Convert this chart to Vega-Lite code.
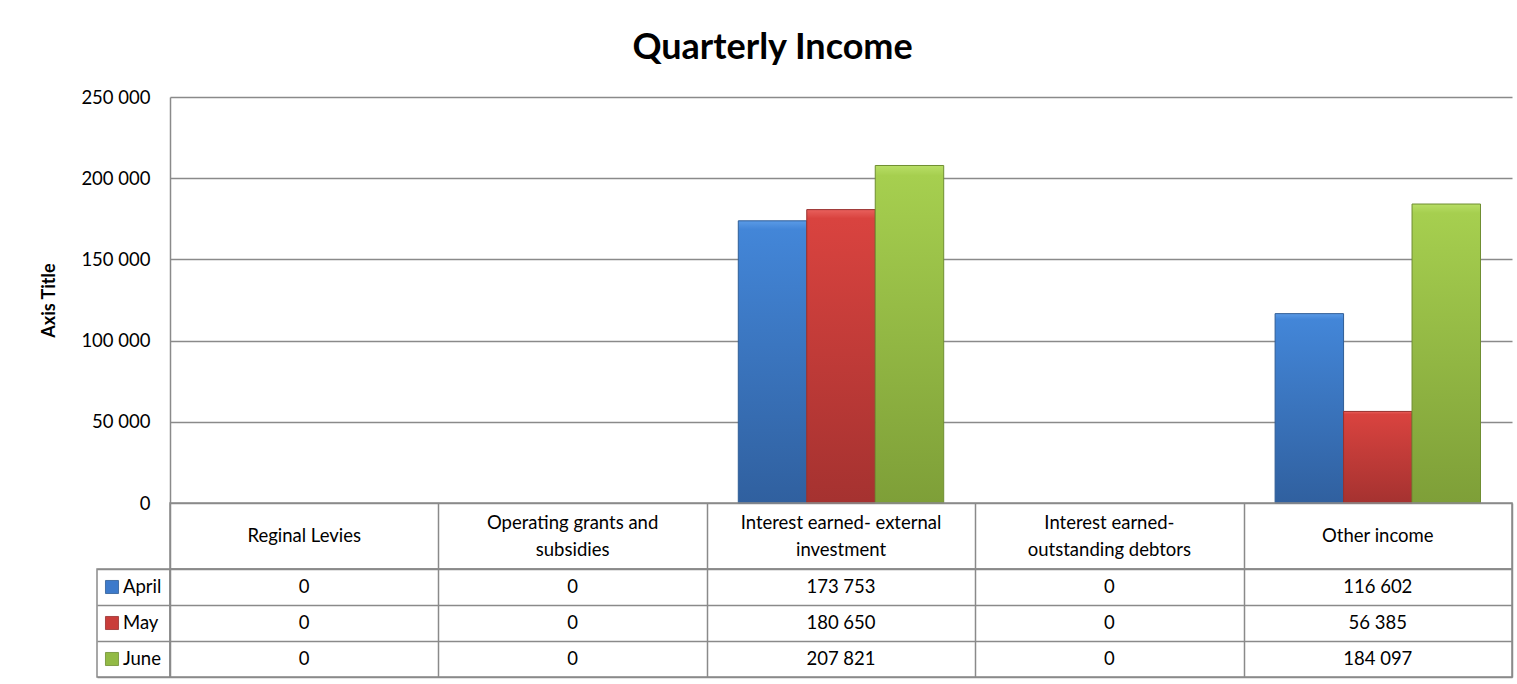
{
  "$schema": "https://vega.github.io/schema/vega-lite/v6.json",
  "padding": {"left": 40, "top": 30, "right": 5, "bottom": 5},
  "background": "white",
  "config": {
    "locale": {"number": {"decimal": ".", "thousands": " ", "grouping": [3], "currency": ["", ""]}},
    "font": "Lato",
    "view": {"stroke": "#8a8a8a", "strokeWidth": 1.5},
    "axis": {"gridColor": "#8a8a8a", "gridWidth": 1.5, "gridOpacity": 1, "domainColor": "#8a8a8a", "domainWidth": 1.5, "labelColor": "#000000", "titleColor": "#000000", "labelFont": "Lato", "titleFont": "Lato"},
    "text": {"font": "Lato", "color": "#000000"}
  },
  "title": {"text": "Quarterly Income", "fontSize": 36, "fontWeight": "bold", "font": "Lato", "color": "#000000", "anchor": "middle", "frame": "bounds", "offset": 21, "dx": -4},
  "datasets": {
    "income": [
      {"category": "Reginal Levies", "month": "April", "value": 0},
      {"category": "Reginal Levies", "month": "May", "value": 0},
      {"category": "Reginal Levies", "month": "June", "value": 0},
      {"category": "Operating grants and subsidies", "month": "April", "value": 0},
      {"category": "Operating grants and subsidies", "month": "May", "value": 0},
      {"category": "Operating grants and subsidies", "month": "June", "value": 0},
      {"category": "Interest earned- external investment", "month": "April", "value": 173753},
      {"category": "Interest earned- external investment", "month": "May", "value": 180650},
      {"category": "Interest earned- external investment", "month": "June", "value": 207821},
      {"category": "Interest earned- outstanding debtors", "month": "April", "value": 0},
      {"category": "Interest earned- outstanding debtors", "month": "May", "value": 0},
      {"category": "Interest earned- outstanding debtors", "month": "June", "value": 0},
      {"category": "Other income", "month": "April", "value": 116602},
      {"category": "Other income", "month": "May", "value": 56385},
      {"category": "Other income", "month": "June", "value": 184097}
    ],
    "header": [
      {"category": "Reginal Levies", "label": "Reginal Levies", "lines": 1},
      {"category": "Operating grants and subsidies", "label": "Operating grants and\nsubsidies", "lines": 2},
      {"category": "Interest earned- external investment", "label": "Interest earned- external\ninvestment", "lines": 2},
      {"category": "Interest earned- outstanding debtors", "label": "Interest earned-\noutstanding debtors", "lines": 2},
      {"category": "Other income", "label": "Other income", "lines": 1}
    ]
  },
  "columns": 2,
  "spacing": 0,
  "bounds": "flush",
  "concat": [
    {
      "width": 73, "height": 406,
      "view": {"stroke": null},
      "data": {"values": [{"t": ""}]},
      "mark": {"type": "text"},
      "encoding": {"text": {"field": "t"}}
    },
    {
      "width": 1342, "height": 406,
      "view": {"stroke": null},
      "data": {"name": "income"},
      "encoding": {
        "x": {"field": "category", "type": "nominal",
              "scale": {"domain": ["Reginal Levies", "Operating grants and subsidies", "Interest earned- external investment", "Interest earned- outstanding debtors", "Other income"], "paddingInner": 0, "paddingOuter": 0},
              "axis": null},
        "xOffset": {"field": "month", "type": "nominal",
              "scale": {"domain": ["April", "May", "June"], "paddingInner": 0, "paddingOuter": 0.46}},
        "y": {"field": "value", "type": "quantitative",
              "scale": {"domain": [0, 250000], "nice": false},
              "axis": {"title": "Axis Title", "values": [0, 50000, 100000, 150000, 200000, 250000], "format": ",d", "grid": true, "ticks": false, "domain": true, "labelPadding": 20, "labelFontSize": 18.5, "titleFontSize": 18, "titleFontWeight": "bold", "titlePadding": 22.5}}
      },
      "layer": [
        {"transform": [{"filter": "datum.month === 'April' && datum.value > 0"}],
         "mark": {"type": "bar", "strokeWidth": 1, "stroke": "#2f5d96",
                  "fill": {"gradient": "linear", "x1": 0, "y1": 0, "x2": 0, "y2": 1, "stops": [{"offset": 0, "color": "#5a9ae6"}, {"offset": 0.03, "color": "#4386d8"}, {"offset": 1, "color": "#30609f"}]}}},
        {"transform": [{"filter": "datum.month === 'May' && datum.value > 0"}],
         "mark": {"type": "bar", "strokeWidth": 1, "stroke": "#97302e",
                  "fill": {"gradient": "linear", "x1": 0, "y1": 0, "x2": 0, "y2": 1, "stops": [{"offset": 0, "color": "#e8605c"}, {"offset": 0.03, "color": "#d9433f"}, {"offset": 1, "color": "#a53230"}]}}},
        {"transform": [{"filter": "datum.month === 'June' && datum.value > 0"}],
         "mark": {"type": "bar", "strokeWidth": 1, "stroke": "#6f8e31",
                  "fill": {"gradient": "linear", "x1": 0, "y1": 0, "x2": 0, "y2": 1, "stops": [{"offset": 0, "color": "#b8de66"}, {"offset": 0.03, "color": "#a6cf4f"}, {"offset": 1, "color": "#7e9f38"}]}}}
      ]
    },
    {
      "width": 73, "height": 66,
      "view": {"stroke": null},
      "data": {"values": [{"t": ""}]},
      "mark": {"type": "text"},
      "encoding": {"text": {"field": "t"}}
    },
    {
      "width": 1342, "height": 66,
      "data": {"name": "header"},
      "encoding": {
        "x": {"field": "category", "type": "nominal",
              "scale": {"domain": ["Reginal Levies", "Operating grants and subsidies", "Interest earned- external investment", "Interest earned- outstanding debtors", "Other income"], "paddingInner": 0, "paddingOuter": 0},
              "axis": {"grid": true, "tickBand": "extent", "labels": false, "ticks": false, "domain": false, "title": null}},
        "text": {"field": "label", "type": "nominal"}
      },
      "layer": [
        {"transform": [{"filter": "datum.lines === 1"}],
         "mark": {"type": "text", "fontSize": 18.5, "baseline": "middle", "align": "center"}},
        {"transform": [{"filter": "datum.lines === 2"}],
         "mark": {"type": "text", "lineBreak": "\n", "fontSize": 18.5, "lineHeight": 27, "baseline": "middle", "align": "center", "dy": -13.5}}
      ]
    },
    {
      "width": 73, "height": 108,
      "data": {"name": "income"},
      "transform": [{"filter": "datum.category === 'Reginal Levies'"}],
      "encoding": {
        "y": {"field": "month", "type": "nominal",
              "scale": {"domain": ["April", "May", "June"], "paddingInner": 0, "paddingOuter": 0},
              "axis": {"grid": true, "tickBand": "extent", "labels": false, "ticks": false, "domain": false, "title": null}}
      },
      "layer": [
        {"mark": {"type": "point", "shape": "square", "filled": true, "size": 170, "opacity": 1, "xOffset": -21.5, "strokeWidth": 0.8},
         "encoding": {
           "color": {"field": "month", "type": "nominal", "scale": {"domain": ["April", "May", "June"], "range": ["#3d7acb", "#c93d3a", "#92ba45"]}, "legend": null},
           "stroke": {"field": "month", "type": "nominal", "scale": {"domain": ["April", "May", "June"], "range": ["#2f5d96", "#97302e", "#6f8e31"]}, "legend": null}
         }},
        {"mark": {"type": "text", "align": "left", "dx": -10.5, "fontSize": 18.5, "baseline": "middle"},
         "encoding": {"text": {"field": "month", "type": "nominal"}}}
      ]
    },
    {
      "width": 1342, "height": 108,
      "data": {"name": "income"},
      "mark": {"type": "text", "fontSize": 18.5, "baseline": "middle", "align": "center"},
      "encoding": {
        "x": {"field": "category", "type": "nominal",
              "scale": {"domain": ["Reginal Levies", "Operating grants and subsidies", "Interest earned- external investment", "Interest earned- outstanding debtors", "Other income"], "paddingInner": 0, "paddingOuter": 0},
              "axis": {"grid": true, "tickBand": "extent", "labels": false, "ticks": false, "domain": false, "title": null}},
        "y": {"field": "month", "type": "nominal",
              "scale": {"domain": ["April", "May", "June"], "paddingInner": 0, "paddingOuter": 0},
              "axis": {"grid": true, "tickBand": "extent", "labels": false, "ticks": false, "domain": false, "title": null}},
        "text": {"field": "value", "type": "quantitative", "format": ",d"}
      }
    }
  ]
}
